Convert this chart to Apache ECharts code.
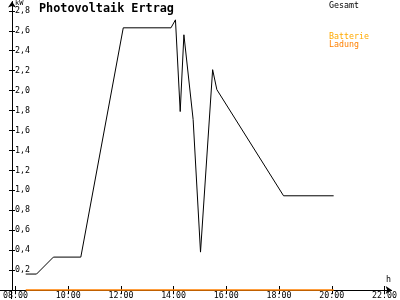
<!DOCTYPE html>
<html>
<head>
<meta charset="utf-8">
<script src="https://cdn.jsdelivr.net/npm/echarts@6/dist/echarts.min.js"></script>
<style>html,body{margin:0;padding:0;background:#fff}#c{width:400px;height:300px}</style>
</head>
<body>
<div id="c"></div>
<script>
// Data (time in decimal hours, values in kW)
var times   = [8.39, 8.80, 9.44, 10.48, 12.09, 13.90, 14.07, 14.25, 14.39, 14.74, 15.02, 15.48, 15.64, 18.17, 20.07];
var gesamt  = [0.16, 0.16, 0.33, 0.33, 2.63, 2.63, 2.71, 1.79, 2.56, 1.71, 0.38, 2.21, 2.01, 0.945, 0.945];
var ladung  = [0, 0, 0, 0, 0, 0, 0, 0, 0, 0, 0, 0, 0, 0, 0];
var xTicks  = [8, 10, 12, 14, 16, 18, 20, 22];
var yTicks  = [0.2, 0.4, 0.6, 0.8, 1.0, 1.2, 1.4, 1.6, 1.8, 2.0, 2.2, 2.4, 2.6, 2.8];
var titleText = 'Photovoltaik Ertrag';
var legendNames = ['Gesamt', 'Batterie', 'Ladung'];
var yUnit = 'kW';
var xUnit = 'h';

var FONT = '"DejaVu Sans Mono", monospace';
function pairs(xs, ys){ return xs.map(function(x,i){ return [x, ys[i]]; }); }
function fmtY(v){ return v.toFixed(1).replace('.', ','); }
function fmtX(v){ var h = Math.round(v); return (h < 10 ? '0' + h : '' + h) + ':00'; }

var chart = echarts.init(document.getElementById('c'), null, {renderer: 'canvas'});
var xMin = 7.869, xMax = 22.27, yMax = 2.894;
chart.setOption({
  animation: false,
  backgroundColor: '#fff',
  grid: {left: 11.5, right: 3, top: 1.5, bottom: 9.5, containLabel: false},
  title: {
    text: titleText, left: 39, top: 2.5, padding: 0,
    textStyle: {fontFamily: FONT, fontWeight: 'bold', fontSize: 11.8, color: '#000'}
  },
  xAxis: [{
    type: 'value', min: xMin, max: xMax,
    axisLine: {show: true, lineStyle: {color: '#000', width: 1}, symbol: ['none', 'arrow'], symbolSize: [6, 6]},
    axisTick: {show: true, length: 4, lineStyle: {color: '#000'}, customValues: xTicks},
    axisLabel: {show: true, margin: 2, customValues: xTicks, formatter: fmtX,
      fontFamily: FONT, fontSize: 8.3, color: '#000'},
    splitLine: {show: false}
  }, {
    type: 'value', min: xMin, max: xMax, position: 'bottom',
    axisLine: {show: false},
    axisTick: {show: true, inside: true, length: 4, lineStyle: {color: '#000'}, customValues: xTicks},
    axisLabel: {show: false},
    splitLine: {show: false}
  }],
  yAxis: [{
    type: 'value', min: 0, max: yMax,
    axisLine: {show: true, lineStyle: {color: '#000', width: 1}, symbol: ['none', 'arrow'], symbolSize: [6, 6]},
    axisTick: {show: true, length: 3, lineStyle: {color: '#000'}, customValues: yTicks},
    axisLabel: {show: true, inside: true, margin: 3, customValues: yTicks, formatter: fmtY,
      fontFamily: FONT, fontSize: 8.3, color: '#000'},
    splitLine: {show: false}
  }, {
    type: 'value', min: 0, max: yMax, position: 'left',
    axisLine: {show: false},
    axisTick: {show: true, inside: true, length: 3, lineStyle: {color: '#000'}, customValues: yTicks},
    axisLabel: {show: false},
    splitLine: {show: false}
  }],
  series: [{
    name: legendNames[2], type: 'line', data: pairs(times, ladung), clip: false,
    xAxisIndex: 0, yAxisIndex: 0, showSymbol: false, zlevel: 1, z: 5,
    lineStyle: {color: '#ff8000', width: 1.6}
  }, {
    name: legendNames[0], type: 'line', data: pairs(times, gesamt), clip: false,
    xAxisIndex: 0, yAxisIndex: 0, showSymbol: false, z: 6,
    lineStyle: {color: '#000', width: 1}
  }],
  graphic: [
    {type: 'line', shape: {x1: 0, y1: 290.5, x2: 11, y2: 290.5}, style: {stroke: '#000', lineWidth: 1}},
    {type: 'line', shape: {x1: 11.5, y1: 290, x2: 11.5, y2: 299}, style: {stroke: '#000', lineWidth: 1}},
    {type: 'text', left: 15, top: 0, style: {text: yUnit, font: '7px ' + FONT, fill: '#000'}},
    {type: 'text', left: 386, top: 276, style: {text: xUnit, font: '8.3px ' + FONT, fill: '#000'}},
    {type: 'text', left: 329, top: 2, style: {text: legendNames[0], font: '8.3px ' + FONT, fill: '#000'}},
    {type: 'text', left: 329, top: 33, style: {text: legendNames[1], font: '8.3px ' + FONT, fill: '#ffaa00'}},
    {type: 'text', left: 329, top: 41, style: {text: legendNames[2], font: '8.3px ' + FONT, fill: '#ff8000'}}
  ]
});
</script>
</body>
</html>
